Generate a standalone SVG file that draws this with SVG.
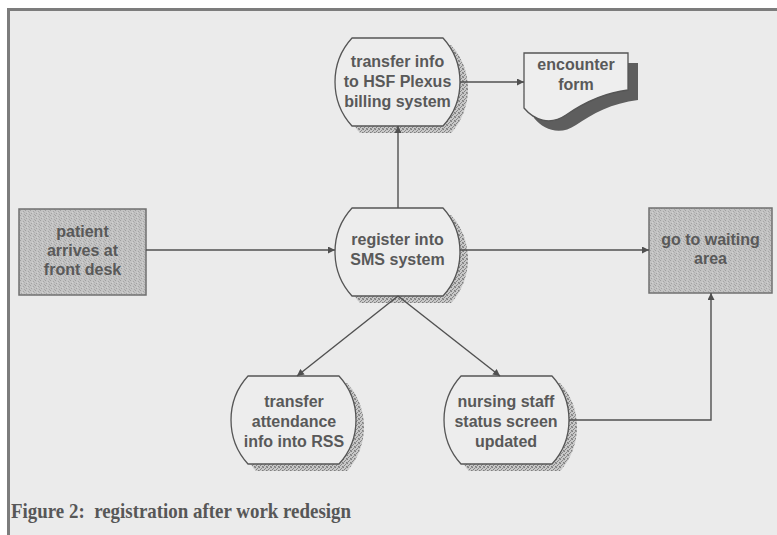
<svg xmlns="http://www.w3.org/2000/svg" width="777" height="535" viewBox="0 0 777 535">
<style>
.lbl{font-family:"Liberation Sans",Arial,sans-serif;font-weight:bold;font-size:16px;fill:#595959;text-anchor:middle}
.node{fill:#ededed;stroke:#555;stroke-width:1.3;stroke-linejoin:round}
.shadow{fill:url(#stip)}
.box{fill:url(#boxfill);stroke:#707070;stroke-width:1.5}
.conn{fill:none;stroke:#505050;stroke-width:1.4}
.cap{font-family:"Liberation Serif","Times New Roman",serif;font-weight:bold;font-size:21px;fill:#575757}
</style>
<defs>
<pattern id="stip" width="4" height="4" patternUnits="userSpaceOnUse">
<rect width="4" height="4" fill="#c8c8c8"/>
<rect x="0" y="0" width="1" height="1" fill="#7e7e7e"/>
<rect x="2" y="1" width="1" height="1" fill="#8a8a8a"/>
<rect x="1" y="2" width="1" height="1" fill="#838383"/>
<rect x="3" y="3" width="1" height="1" fill="#7e7e7e"/>
<rect x="3" y="0" width="1" height="1" fill="#9a9a9a"/>
<rect x="0" y="3" width="1" height="1" fill="#9a9a9a"/>
</pattern>
<pattern id="boxfill" width="5" height="5" patternUnits="userSpaceOnUse">
<rect width="5" height="5" fill="#c3c3c3"/>
<rect x="0" y="0" width="1" height="1" fill="#a0a0a0"/>
<rect x="3" y="1" width="1" height="1" fill="#a6a6a6"/>
<rect x="1" y="3" width="1" height="1" fill="#a3a3a3"/>
<rect x="4" y="4" width="1" height="1" fill="#a8a8a8"/>
<rect x="2" y="2" width="1" height="1" fill="#d2d2d2"/>
<rect x="4" y="2" width="1" height="1" fill="#b0b0b0"/>
</pattern>
<path id="shape" d="M17,0 H108 A62.5 64.2 0 0 1 108,88 H17 A62.5 64.2 0 0 1 17,0 Z"/>
<marker id="arr" viewBox="0 0 10 10" refX="10" refY="5" markerWidth="8" markerHeight="7" markerUnits="userSpaceOnUse" orient="auto">
<path d="M0,0 L10,5 L0,10 Z" fill="#505050"/>
</marker>
</defs>

<rect width="777" height="535" fill="#ffffff"/>
<rect x="8" y="9" width="769" height="526" fill="#ebebeb"/>
<path d="M8.5,535 V9.5 H777" fill="none" stroke="#7c7c7c" stroke-width="3"/>

<g id="patient">
<rect class="box" x="19" y="209" width="127" height="86"/>
<text class="lbl" x="82.5" y="237">patient</text>
<text class="lbl" x="82.5" y="256">arrives at</text>
<text class="lbl" x="82.5" y="275">front desk</text>
</g>

<g id="register">
<use href="#shape" class="shadow" x="343" y="215"/>
<use href="#shape" class="node" x="335" y="208"/>
<text class="lbl" x="397.5" y="245">register into</text>
<text class="lbl" x="397.5" y="265">SMS system</text>
</g>

<g id="hsf">
<use href="#shape" class="shadow" x="343" y="45"/>
<use href="#shape" class="node" x="335" y="38"/>
<text class="lbl" x="397.5" y="67">transfer info</text>
<text class="lbl" x="397.5" y="87">to HSF Plexus</text>
<text class="lbl" x="397.5" y="107">billing system</text>
</g>

<g id="encounter">
<path d="M534,63 H638 V100 C612,103 592,114 576,125 C560,136 544,130 534,118 Z" fill="#5e5e5e"/>
<path d="M524,53 H628 V90 C602,93 582,104 566,115 C550,126 534,120 524,108 Z" fill="#eeeeee" stroke="#555" stroke-width="1.3"/>
<text class="lbl" x="576" y="70">encounter</text>
<text class="lbl" x="576" y="90">form</text>
</g>

<g id="waiting">
<rect class="box" x="649" y="208" width="123" height="85"/>
<text class="lbl" x="710.5" y="245">go to waiting</text>
<text class="lbl" x="710.5" y="264">area</text>
</g>

<g id="attendance">
<use href="#shape" class="shadow" x="239" y="383"/>
<use href="#shape" class="node" x="231" y="376"/>
<text class="lbl" x="294" y="407">transfer</text>
<text class="lbl" x="294" y="427">attendance</text>
<text class="lbl" x="294" y="447">info into RSS</text>
</g>

<g id="nursing">
<use href="#shape" class="shadow" x="452" y="383"/>
<use href="#shape" class="node" x="444" y="376"/>
<text class="lbl" x="506" y="407">nursing staff</text>
<text class="lbl" x="506" y="427">status screen</text>
<text class="lbl" x="506" y="447">updated</text>
</g>

<g id="connectors">
<line class="conn" x1="146" y1="250" x2="335" y2="250" marker-end="url(#arr)"/>
<line class="conn" x1="460" y1="250" x2="649" y2="250" marker-end="url(#arr)"/>
<line class="conn" x1="398" y1="208" x2="398" y2="126" marker-end="url(#arr)"/>
<line class="conn" x1="460" y1="82" x2="524" y2="82" marker-end="url(#arr)"/>
<line class="conn" x1="398" y1="296" x2="297" y2="376" marker-end="url(#arr)"/>
<line class="conn" x1="398" y1="296" x2="500" y2="376" marker-end="url(#arr)"/>
<polyline class="conn" points="569,420 711,420 711,293" marker-end="url(#arr)"/>
</g>

<text class="cap" x="11" y="518" textLength="340" lengthAdjust="spacingAndGlyphs" xml:space="preserve">Figure 2:  registration after work redesign</text>
</svg>
